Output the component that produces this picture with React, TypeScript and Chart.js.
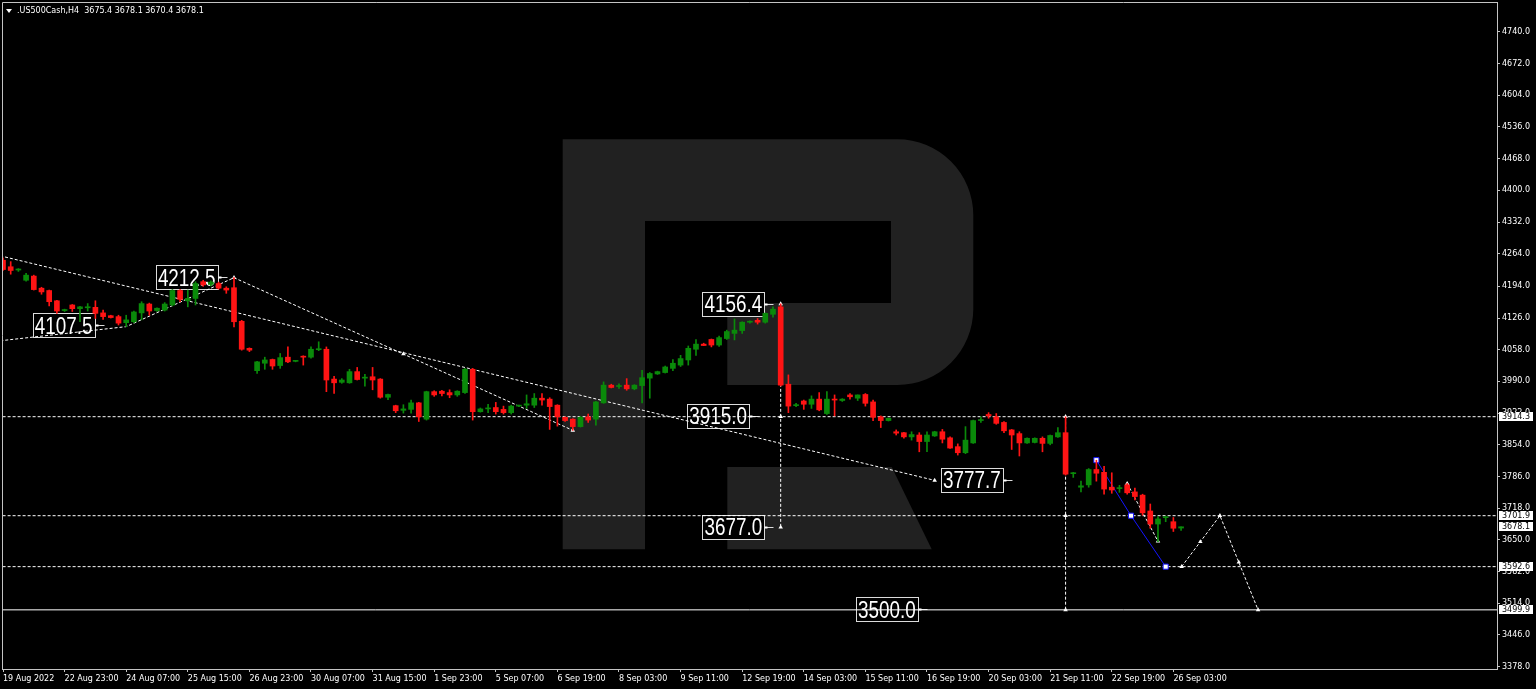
import React, { useEffect, useRef } from 'react';
import { Chart, registerables } from 'chart.js';

Chart.register(...registerables);

const symbolName = '.US500Cash';
const timeframe = 'H4';

const barOpen = [
  4250, 4236, 4229, 4207, 4216, 4190, 4185, 4163, 4142, 4154,
  4146, 4148, 4149, 4137, 4131, 4129, 4116, 4118, 4137, 4156,
  4142, 4143, 4154, 4185, 4163, 4168, 4204, 4198, 4200, 4190,
  4191, 4119, 4061, 4013, 4029, 4037, 4024, 4042, 4033, 4044,
  4042, 4058, 4059, 3995, 3988, 3987, 4011, 3997, 4000, 3995,
  3956, 3938, 3928, 3930, 3944, 3909, 3968, 3969, 3966, 3961,
  3966, 4016, 3925, 3931, 3934, 3930, 3923, 3937, 3939, 3939,
  3954, 3952, 3939, 3913, 3909, 3893, 3914, 3909, 3944, 3982,
  3979, 3982, 3974, 3981, 3997, 4006, 4009, 4018, 4025, 4036,
  4059, 4070, 4080, 4068, 4082, 4093, 4099, 4117, 4121, 4117,
  4134, 4150, 3984, 3938, 3948, 3941, 3952, 3921, 3952, 3949,
  3961, 3954, 3962, 3946, 3914, 3906, 3882, 3880, 3871, 3875,
  3861, 3873, 3882, 3869, 3850, 3837, 3858, 3906, 3919, 3914,
  3902, 3886, 3878, 3858, 3859, 3868, 3857, 3871, 3880, 3792,
  3763, 3768, 3801, 3795, 3763, 3760, 3768, 3753, 3746, 3712,
  3684, 3697.6, 3689, 3675.4,
];
const barHigh = [
  4255, 4247, 4232, 4222, 4218, 4192, 4186, 4164, 4145, 4155,
  4151, 4157, 4163, 4143, 4132, 4132, 4132, 4141, 4161, 4158,
  4148, 4159, 4187, 4187, 4186, 4204, 4207, 4206, 4203, 4193,
  4212.5, 4121, 4062, 4033, 4042, 4038, 4050, 4064, 4035, 4045,
  4064, 4075, 4064, 4001, 3996, 4016, 4020, 4005, 4020, 3996,
  3963, 3939, 3940, 3950, 3945, 3969, 3970, 3971, 3972, 3970,
  4018, 4018, 3933, 3941, 3945, 3937, 3939, 3939, 3961, 3964,
  3964, 3955, 3940, 3914, 3910, 3915, 3920, 3947, 3989, 3984,
  3985, 3996, 3983, 4014, 4009, 4012, 4023, 4037, 4046, 4066,
  4080, 4072, 4081, 4087, 4100, 4124, 4118, 4120, 4125, 4137,
  4150, 4156.4, 4004, 3943, 3950, 3959, 3966, 3968, 3961, 3953,
  3964, 3961, 3964, 3950, 3916, 3911, 3886, 3881, 3882, 3880,
  3882, 3883, 3887, 3871, 3856, 3893, 3907, 3914, 3923, 3921,
  3904, 3887, 3882, 3869, 3869, 3871, 3875, 3891, 3914, 3795,
  3776, 3803, 3821, 3808, 3794, 3767, 3771, 3761, 3748, 3727,
  3700, 3701, 3698, 3678.1,
];
const barLow = [
  4228, 4220, 4226, 4205, 4186, 4177, 4152, 4136, 4140, 4140,
  4118, 4141, 4125, 4123, 4126, 4111, 4107.5, 4116, 4122, 4132,
  4140, 4141, 4152, 4161, 4150, 4154, 4194, 4195, 4188, 4179,
  4107, 4057, 4054, 4007, 4016, 4016, 4018, 4030, 4032, 4025,
  4040, 4056, 3968, 3964, 3986, 3986, 3993, 3980, 3972, 3954,
  3951, 3923, 3922, 3922, 3904, 3907, 3958, 3959, 3955, 3958,
  3964, 3907, 3924, 3923, 3920, 3920, 3920, 3936, 3932, 3934,
  3939, 3887, 3894, 3904, 3885, 3892, 3902, 3896, 3943, 3976,
  3975, 3971, 3972, 3944, 3954, 4005, 4008, 4013, 4022, 4025,
  4046, 4067, 4064, 4065, 4080, 4079, 4093, 4115, 4113, 4115,
  4128, 3980, 3923, 3936, 3930, 3932, 3927, 3919, 3916, 3947,
  3952, 3949, 3937, 3906, 3891, 3905, 3875, 3868, 3864, 3839,
  3839, 3872, 3858, 3846, 3832, 3835, 3857, 3902, 3911, 3898,
  3880, 3844, 3830, 3857, 3858, 3839, 3854, 3870, 3789, 3784,
  3753, 3763, 3776, 3748, 3750, 3752, 3748, 3736, 3703, 3675,
  3646, 3689, 3668, 3670.4,
];
const barClose = [
  4230, 4228, 4230, 4218, 4187, 4182, 4161, 4141, 4144, 4146,
  4150, 4150, 4136, 4129, 4127, 4115, 4122, 4139, 4157, 4141,
  4147, 4156, 4185, 4166, 4168, 4200, 4197, 4203, 4190, 4186,
  4118, 4059, 4057, 4032, 4036, 4023, 4041, 4032, 4034, 4042,
  4059, 4060, 3993, 3987, 3993, 4011, 3994, 3998, 3993, 3956,
  3962, 3927, 3931, 3944, 3914, 3968, 3961, 3964, 3961, 3969,
  4016, 3925, 3931, 3932, 3925, 3923, 3937, 3938, 3942, 3954,
  3950, 3936, 3914, 3906, 3893, 3913, 3907, 3946, 3982, 3977,
  3981, 3974, 3982, 3998, 4007, 4011, 4021, 4029, 4039, 4061,
  4070, 4067, 4068, 4084, 4097, 4100, 4117, 4119, 4117, 4136,
  4145, 3982, 3937, 3940, 3941, 3952, 3929, 3952, 3950, 3952,
  3957, 3961, 3943, 3913, 3906, 3911, 3879, 3871, 3876, 3861,
  3875, 3882, 3866, 3847, 3837, 3864, 3906, 3908, 3916, 3900,
  3884, 3875, 3858, 3868, 3868, 3857, 3874, 3880, 3791, 3794,
  3766, 3801, 3793, 3759, 3757, 3762, 3751, 3743, 3708, 3684,
  3695, 3699.8, 3675, 3678.1,
];

const xTickBars = [0, 8, 16, 24, 32, 40, 48, 56, 64, 72, 80, 88, 96, 104, 112, 120, 128, 136, 144, 152];
const xTickLabels = [
  '19 Aug 2022', '22 Aug 23:00', '24 Aug 07:00', '25 Aug 15:00', '26 Aug 23:00',
  '30 Aug 07:00', '31 Aug 15:00', '1 Sep 23:00', '5 Sep 07:00', '6 Sep 19:00',
  '8 Sep 03:00', '9 Sep 11:00', '12 Sep 19:00', '14 Sep 03:00', '15 Sep 11:00',
  '16 Sep 19:00', '20 Sep 03:00', '21 Sep 11:00', '22 Sep 19:00', '26 Sep 03:00',
];
const yTickValues = [
  4740, 4672, 4604, 4536, 4468, 4400, 4332, 4264, 4194, 4126, 4058,
  3990, 3922, 3854, 3786, 3718, 3650, 3582, 3514, 3446, 3378,
];

const dottedLevels = [3914.3, 3701.9, 3592.6];
const solidLevel = 3499.9;
const tagPrices = [3914.3, 3701.9, 3678.1, 3592.6, 3499.9];

const trendBars = [-1, 121];
const trendPrices = [4262, 3777.7];
const zigzagBars = [-1, 16, 30, 74];
const zigzagPrices = [4076, 4107.5, 4212.5, 3885];
const dropBars = [101, 101];
const dropPrices = [4156.4, 3677.0];
const targetBars = [138, 138];
const targetPrices = [3914.3, 3499.9];
const swingBars = [146, 150];
const swingPrices = [3771, 3647];
const forecastBars = [153.07, 158.05, 163];
const forecastPrices = [3592.6, 3701.9, 3499.9];
const waveBars = [142, 146.5, 151];
const wavePrices = [3821, 3701.9, 3592.6];
const markerBars = [30, 52, 74, 101, 101, 101, 121, 138, 138, 138, 146, 150, 153.07, 155.5, 158.05, 160.5, 163];
const markerPrices = [4212.5, 4049, 3885, 4156.4, 3914.3, 3677.0, 3777.7, 3914.3, 3701.9, 3499.9, 3771, 3647, 3592.6, 3646, 3701.9, 3602, 3499.9];

const noteTexts = ['4212.5', '4107.5', '4156.4', '3915.0', '3677.0', '3777.7', '3500.0'];
const noteBars = [23.86, 7.88, 94.85, 92.88, 94.85, 125.84, 114.8];
const notePrices = [4213, 4110.4, 4156.7, 3915.8, 3678.3, 3779.2, 3500.7];

const GREEN = '#0a8a0a';
const RED = '#ff1414';
const FRAME = '#c4c4c4';
const AXIS_FONT = '"DejaVu Sans", sans-serif';

const pts = (bars: number[], prices: number[]) => bars.map((b, k) => ({ x: b, y: prices[k] }));

function lineDs(data: any[], color: string, dash: number[], order: number) {
  return {
    type: 'line',
    data,
    borderColor: color,
    borderWidth: 1,
    borderDash: dash,
    pointRadius: 0,
    fill: false,
    tension: 0,
    order,
  };
}

const bgPlugin = {
  id: 'bgLogo',
  beforeDraw(chart: any) {
    const ctx = chart.ctx;
    ctx.save();
    ctx.fillStyle = '#000000';
    ctx.fillRect(0, 0, chart.width, chart.height);
    ctx.fillStyle = '#212121';
    ctx.beginPath();
    ctx.moveTo(562.7, 139.3);
    ctx.lineTo(897, 139.3);
    ctx.arcTo(973.3, 139.3, 973.3, 216, 76);
    ctx.lineTo(973.3, 309);
    ctx.arcTo(973.3, 385, 897, 385, 76);
    ctx.lineTo(727.3, 385);
    ctx.lineTo(727.3, 303);
    ctx.lineTo(891, 303);
    ctx.lineTo(891, 221);
    ctx.lineTo(645, 221);
    ctx.lineTo(645, 549.3);
    ctx.lineTo(562.7, 549.3);
    ctx.closePath();
    ctx.fill();
    ctx.beginPath();
    ctx.moveTo(727.3, 467);
    ctx.lineTo(891.7, 467);
    ctx.lineTo(931.7, 549.3);
    ctx.lineTo(727.3, 549.3);
    ctx.closePath();
    ctx.fill();
    ctx.restore();
  },
};

// text notes are chart objects: drawn behind the candles (chart in foreground)
const notesPlugin = {
  id: 'notes',
  beforeDatasetsDraw(chart: any) {
    const { ctx } = chart;
    const xs = chart.scales.x;
    const ys = chart.scales.y;
    ctx.save();
    noteTexts.forEach((t, k) => {
      const cx = xs.getPixelForValue(noteBars[k]);
      const cy = ys.getPixelForValue(notePrices[k]);
      ctx.font = '23px "Liberation Sans", Arial, sans-serif';
      const w = Math.round(ctx.measureText(t).width * 0.82 + 4);
      const h = 24;
      const left = Math.round(cx - w / 2) + 0.5;
      const top = Math.round(cy - h / 2) + 0.5;
      ctx.fillStyle = '#000000';
      ctx.fillRect(left, top, w, h);
      ctx.strokeStyle = '#dcdcdc';
      ctx.lineWidth = 1;
      ctx.setLineDash([]);
      ctx.strokeRect(left, top, w, h);
      const ly = Math.round(cy) + 0.5;
      ctx.beginPath();
      ctx.moveTo(left + w, ly);
      ctx.lineTo(left + w + 9, ly);
      ctx.stroke();
      ctx.fillStyle = '#ffffff';
      ctx.fillRect(left + w, ly - 1, 3, 2);
      ctx.save();
      ctx.translate(cx, cy);
      ctx.scale(0.82, 1);
      ctx.fillStyle = '#ffffff';
      ctx.textAlign = 'center';
      ctx.textBaseline = 'alphabetic';
      ctx.fillText(t, 0, 8.3);
      ctx.restore();
    });
    ctx.restore();
  },
};

const overlayPlugin = {
  id: 'overlay',
  afterDraw(chart: any) {
    const { ctx, chartArea: ca } = chart;
    const ys = chart.scales.y;
    ctx.save();
    ctx.strokeStyle = FRAME;
    ctx.lineWidth = 1;
    ctx.setLineDash([]);
    ctx.beginPath();
    ctx.moveTo(ca.left + 0.5, ca.bottom);
    ctx.lineTo(ca.left + 0.5, ca.top + 0.5);
    ctx.lineTo(ca.right, ca.top + 0.5);
    ctx.stroke();

    ctx.font = '8px ' + AXIS_FONT;
    tagPrices.forEach((p) => {
      const cy = ys.getPixelForValue(p);
      const left = ca.right + 2;
      const top = Math.round(cy - 4.5);
      ctx.fillStyle = '#ffffff';
      ctx.fillRect(left, top, 34, 9);
      ctx.fillStyle = '#000000';
      ctx.textAlign = 'left';
      ctx.textBaseline = 'middle';
      ctx.fillText(p.toFixed(1), left + 3, top + 5);
    });

    const last = barOpen.length - 1;
    ctx.fillStyle = '#ffffff';
    ctx.beginPath();
    ctx.moveTo(6, 9);
    ctx.lineTo(12, 9);
    ctx.lineTo(9, 13);
    ctx.closePath();
    ctx.fill();
    ctx.font = '8px ' + AXIS_FONT;
    ctx.textAlign = 'left';
    ctx.textBaseline = 'middle';
    const header = `${symbolName},${timeframe}  ${barOpen[last].toFixed(1)} ${barHigh[last].toFixed(1)} ${barLow[last].toFixed(1)} ${barClose[last].toFixed(1)}`;
    ctx.fillText(header, 17, 11);
    ctx.restore();
  },
};

export default function App() {
  const ref = useRef<HTMLCanvasElement>(null);

  useEffect(() => {
    const canvas = ref.current;
    if (!canvas) return;
    const idx = barOpen.map((_, i) => i);
    const colors = idx.map((i) => (barClose[i] >= barOpen[i] ? GREEN : RED));

    const datasets: any[] = [
      {
        type: 'bar',
        data: idx.map((i) => ({ x: i, y: [Math.min(barOpen[i], barClose[i]), Math.max(barOpen[i], barClose[i])] })),
        backgroundColor: colors,
        borderWidth: 0,
        barThickness: 5,
        minBarLength: 1,
        grouped: false,
        order: 1,
      },
      {
        type: 'bar',
        data: idx.map((i) => ({ x: i, y: [barLow[i], barHigh[i]] })),
        backgroundColor: colors,
        borderWidth: 0,
        barThickness: 1,
        grouped: false,
        order: 2,
      },
      {
        type: 'line',
        data: pts(markerBars, markerPrices),
        showLine: false,
        pointStyle: 'triangle',
        pointRadius: 2.6,
        pointBackgroundColor: '#ffffff',
        pointBorderColor: '#ffffff',
        pointBorderWidth: 0,
        order: 5,
      },
      {
        type: 'line',
        data: pts(waveBars, wavePrices),
        borderColor: '#1414ff',
        borderWidth: 1,
        pointStyle: 'rect',
        pointRadius: 3.6,
        pointBackgroundColor: '#ffffff',
        pointBorderColor: '#1414ff',
        pointBorderWidth: 1,
        fill: false,
        tension: 0,
        order: 6,
      },
      lineDs(pts(trendBars, trendPrices), '#ffffff', [3, 2], 10),
      lineDs(pts(zigzagBars, zigzagPrices), '#ffffff', [3, 2], 10),
      lineDs(pts(dropBars, dropPrices), '#ffffff', [3, 2], 10),
      lineDs(pts(targetBars, targetPrices), '#ffffff', [3, 2], 10),
      lineDs(pts(swingBars, swingPrices), '#ffffff', [3, 2], 10),
      lineDs(pts(forecastBars, forecastPrices), '#ffffff', [3, 2], 10),
      ...dottedLevels.map((p) => lineDs(pts([-2, 200], [p, p]), '#ffffff', [3, 2], 10)),
      lineDs(pts([-2, 200], [solidLevel, solidLevel]), '#ffffff', [], 10),
    ];

    const zeroPad = (scale: any) => {
      scale.paddingTop = 0;
      scale.paddingBottom = 0;
      scale.paddingLeft = 0;
      scale.paddingRight = 0;
    };

    const chart = new Chart(canvas, {
      type: 'bar',
      data: { datasets },
      plugins: [bgPlugin, notesPlugin, overlayPlugin],
      options: {
        animation: false,
        responsive: false,
        maintainAspectRatio: false,
        devicePixelRatio: 1,
        events: [],
        layout: { autoPadding: false, padding: { left: 2, top: 2, right: 0, bottom: 0 } },
        plugins: { legend: { display: false }, tooltip: { enabled: false }, title: { display: false } },
        scales: {
          x: {
            type: 'linear',
            position: 'bottom',
            min: -0.13,
            max: 194.03,
            offset: false,
            bounds: 'data',
            grid: { display: true, drawOnChartArea: false, drawTicks: true, tickLength: 3, color: FRAME, offset: false },
            border: { display: true, color: FRAME, width: 1 },
            ticks: {
              autoSkip: false,
              maxRotation: 0,
              minRotation: 0,
              align: 'start',
              padding: 2,
              color: '#ffffff',
              font: { family: AXIS_FONT, size: 8 },
              callback: (v: any) => {
                const k = xTickBars.indexOf(Number(v));
                return k >= 0 ? xTickLabels[k] : '';
              },
            },
            afterBuildTicks: (scale: any) => {
              scale.ticks = xTickBars.map((b) => ({ value: b }));
            },
            afterFit: (scale: any) => {
              scale.height = 20;
              zeroPad(scale);
            },
          },
          y: {
            type: 'linear',
            position: 'right',
            min: 3373,
            max: 4804,
            bounds: 'data',
            grid: { display: true, drawOnChartArea: false, drawTicks: true, tickLength: 3, color: FRAME },
            border: { display: true, color: FRAME, width: 1 },
            ticks: {
              autoSkip: false,
              padding: 2,
              color: '#ffffff',
              font: { family: AXIS_FONT, size: 8 },
              callback: (v: any) => Number(v).toFixed(1),
            },
            afterBuildTicks: (scale: any) => {
              scale.ticks = yTickValues.map((v) => ({ value: v }));
            },
            afterFit: (scale: any) => {
              scale.width = 39;
              zeroPad(scale);
            },
          },
        },
      } as any,
    } as any);
    return () => chart.destroy();
  }, []);

  return (
    <div style={{ position: 'absolute', left: 0, top: 0, width: 1536, height: 689, background: '#000' }}>
      <canvas ref={ref} width={1536} height={689} style={{ display: 'block', width: 1536, height: 689 }} />
    </div>
  );
}
